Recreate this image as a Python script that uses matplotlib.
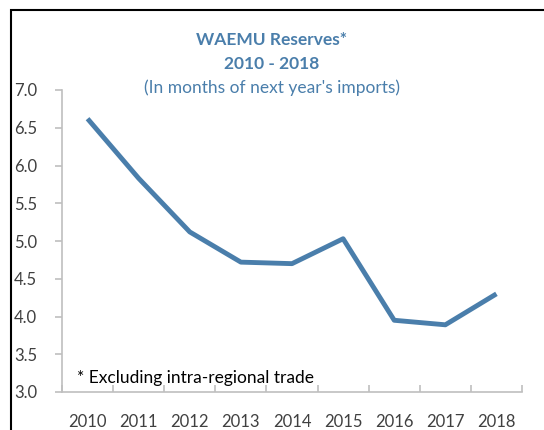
import matplotlib
matplotlib.use("Agg")
import matplotlib.pyplot as plt
from matplotlib.patches import Rectangle

years = ["2010", "2011", "2012", "2013", "2014", "2015", "2016", "2017", "2018"]
reserves = [6.62, 5.83, 5.12, 4.72, 4.70, 5.03, 3.95, 3.89, 4.30]
yticks = [3.0, 3.5, 4.0, 4.5, 5.0, 5.5, 6.0, 6.5, 7.0]

plt.rcParams['font.family'] = ['Lato', 'DejaVu Sans']
W, H = 544, 430
fig = plt.figure(figsize=(W / 100, H / 100), dpi=100)

# outer frame (left and top visible)
fig.patches.append(Rectangle((11 / W, -0.1), 2, 1.1 - 10 / H, transform=fig.transFigure,
                             fill=False, edgecolor='black', linewidth=1.5))

ax = fig.add_axes([62 / W, 1 - 392 / H, (522 - 62) / W, (392 - 90) / H])
x = list(range(len(years)))
blue = '#4a7eab'
ax.plot(x, reserves, color=blue, linewidth=3.5, solid_joinstyle='round', solid_capstyle='butt')

ax.set_xlim(-0.5, len(years) - 0.5)
ax.set_ylim(3.0, 7.0)
ax.set_yticks(yticks)
ax.set_yticklabels([f"{v:.1f}" for v in yticks])
ax.set_xticks(x)
ax.set_xticklabels(years)
ax.set_xticks([i + 0.5 for i in range(-1, len(years))], minor=True)

for s in ['top', 'right']:
    ax.spines[s].set_visible(False)
for s in ['left', 'bottom']:
    ax.spines[s].set_color('#bfbfbf')
    ax.spines[s].set_linewidth(1.2)

ax.tick_params(axis='y', direction='out', length=5, color='#bfbfbf', width=1.2,
               labelsize=12, labelcolor='#404040', pad=13)
ax.tick_params(axis='x', which='major', length=0, labelsize=12, labelcolor='#404040', pad=16)
ax.tick_params(axis='x', which='minor', direction='in', length=5, color='#bfbfbf', width=1.2)

fig.text(0.5, 1 - 40 / H, "WAEMU Reserves*", ha='center', va='center',
         fontsize=12.5, fontweight='bold', color=blue)
fig.text(0.5, 1 - 64 / H, "2010 - 2018", ha='center', va='center',
         fontsize=12.5, fontweight='bold', color=blue)
fig.text(0.5, 1 - 88 / H, "(In months of next year's imports)", ha='center', va='center',
         fontsize=12.5, color=blue)
fig.text(77 / W, 1 - 378 / H, "* Excluding intra-regional trade", ha='left', va='center',
         fontsize=12.5, color='black')

fig.savefig("out.png", dpi=100)
